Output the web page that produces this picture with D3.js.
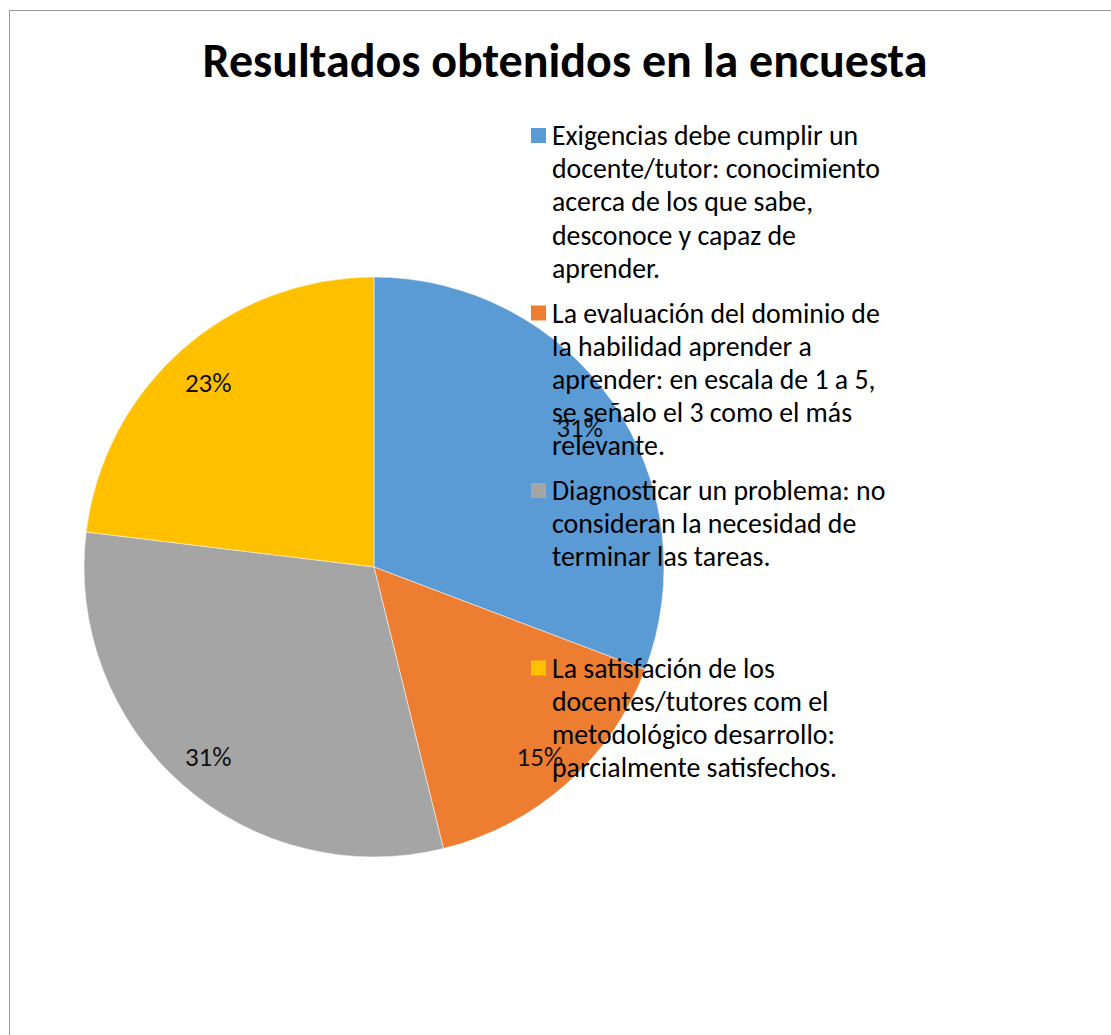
<!DOCTYPE html>
<html>
<head>
<meta charset="utf-8">
<script src="https://cdn.jsdelivr.net/npm/d3@7"></script>
<style>
  body { margin: 0; background: #fff; }
  svg { display: block; }
</style>
</head>
<body>
<div id="c"></div>
<script>
"use strict";

const chartTitle = "Resultados obtenidos en la encuesta"
const categories = [
    ["Exigencias debe cumplir un", "docente/tutor: conocimiento", "acerca de los que sabe,", "desconoce y capaz de", "aprender."],
    ["La evaluación del dominio de", "la habilidad aprender a", "aprender: en escala de 1 a 5,", "se señalo el 3 como el más", "relevante."],
    ["Diagnosticar un problema: no", "consideran la necesidad de", "terminar las tareas."],
    ["La satisfación de los", "docentes/tutores com el", "metodológico desarrollo:", "parcialmente satisfechos."]
]
const values = [4, 2, 4, 3]
const colors = ["#5B9BD5", "#ED7D31", "#A5A5A5", "#FFC000"]

const font = "Carlito, 'Open Sans', sans-serif"

window.onload = function() {
    const W = 1111, H = 1035
    let svg = d3.select('#c').append('svg')
        .attr('width', W).attr('height', H)

    // chart frame
    svg.append('rect')
        .attr('x', 9.5).attr('y', 10.5)
        .attr('width', W + 10).attr('height', H + 10)
        .attr('fill', '#fff')
        .attr('stroke', '#9a9a9a')
        .attr('stroke-width', 1)

    svg.append('text')
        .text(chartTitle)
        .attr('x', 565).attr('y', 77)
        .attr('text-anchor', 'middle')
        .style('font-family', font)
        .style('font-weight', 'bold')
        .style('font-size', '48px')
        .attr('fill', '#000')

    const cx = 374, cy = 567, r = 290
    const total = d3.sum(values)

    let pie = d3.pie().sort(null).value(d => d)
    let arcs = pie(values)
    let arc = d3.arc().innerRadius(0).outerRadius(r)
    let labelArc = d3.arc().innerRadius(250).outerRadius(250)

    let g = svg.append('g').attr('transform', 'translate(' + cx + ',' + cy + ')')
    g.selectAll('path.slice')
        .data(arcs)
        .enter()
        .append('path')
            .attr('class', 'slice')
            .attr('d', arc)
            .attr('fill', (d, i) => colors[i])
            .attr('stroke', '#fff')
            .attr('stroke-width', 0.5)

    // legend
    let legend = svg.append('g').attr('transform', 'translate(531,144)')
    const entryStep = 177.5, lineStep = 33.2
    let item = legend.selectAll('g.item')
        .data(categories)
        .enter()
        .append('g')
            .attr('class', 'item')
            .attr('transform', (d, i) => 'translate(0,' + i * entryStep + ')')
    item.append('rect')
        .attr('x', 0).attr('y', -16)
        .attr('width', 15).attr('height', 15)
        .attr('fill', (d, i) => colors[i])
    item.each(function(lines) {
        let t = d3.select(this).append('text')
            .style('font-family', font)
            .style('font-size', '27.8px')
            .attr('fill', '#000')
        lines.forEach((ln, j) => {
            t.append('tspan').attr('x', 21).attr('y', j * lineStep + 1).text(ln)
        })
    })

    // data labels (drawn over legend like the original)
    g.selectAll('text.lbl')
        .data(arcs)
        .enter()
        .append('text')
            .attr('class', 'lbl')
            .attr('transform', d => 'translate(' + labelArc.centroid(d) + ')')
            .attr('text-anchor', 'middle')
            .attr('dy', '0.45em')
            .style('font-family', font)
            .style('font-size', '27px')
            .attr('fill', '#111')
            .text(d => Math.round(d.value / total * 100) + '%')
}
</script>
</body>
</html>
